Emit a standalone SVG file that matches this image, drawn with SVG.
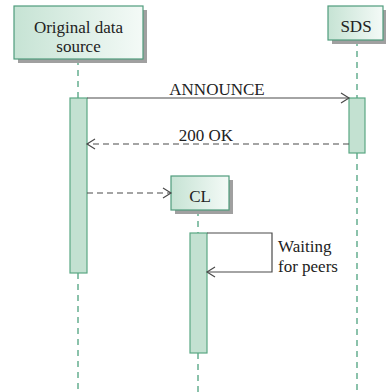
<svg xmlns="http://www.w3.org/2000/svg" width="386" height="392" viewBox="0 0 386 392">
<style>
text{font-family:"Liberation Serif","Times New Roman",serif;font-size:17px;fill:#222}
.box{fill:url(#g);stroke:#4f9c7c;stroke-width:1.2}
.sh{fill:#a0a0a0}
.act{fill:#c3e1d1;stroke:#5aa783;stroke-width:1.2}
.life{stroke:#3f9a74;stroke-width:1.2;stroke-dasharray:6 5;fill:none}
.msg{stroke:#4a4a4a;stroke-width:1.2;fill:none}
.dash{stroke-dasharray:6 4}
</style>
<defs>
<linearGradient id="g" x1="0" y1="0" x2="1" y2="0">
<stop offset="0" stop-color="#c6e3d4"/>
<stop offset="1" stop-color="#f4faf7"/>
</linearGradient>
<marker id="ah" markerWidth="12" markerHeight="12" refX="10" refY="6" orient="auto" markerUnits="userSpaceOnUse">
<path d="M2,1 L10,6 L2,11" fill="none" stroke="#4a4a4a" stroke-width="1.2"/>
</marker>
</defs>
<g id="lifelines">
<line class="life" x1="78" y1="59" x2="78" y2="98"/>
<line class="life" x1="78" y1="273" x2="78" y2="392"/>
<line class="life" x1="357" y1="40" x2="357" y2="98"/>
<line class="life" x1="357" y1="153" x2="357" y2="392"/>
<line class="life" x1="198" y1="210" x2="198" y2="233"/>
<line class="life" x1="198" y1="353" x2="198" y2="392"/>
</g>
<g id="node-original">
<rect class="sh" x="18" y="10" width="129" height="53"/>
<rect class="box" x="14" y="6" width="129" height="53"/>
<text x="78.5" y="33" text-anchor="middle">Original data</text>
<text x="78.5" y="52" text-anchor="middle">source</text>
</g>
<g id="node-sds">
<rect class="sh" x="332" y="10" width="55" height="34"/>
<rect class="box" x="328" y="6" width="55" height="34"/>
<text x="356" y="32" text-anchor="middle">SDS</text>
</g>
<g id="node-cl">
<rect class="sh" x="175" y="180" width="58" height="34"/>
<rect class="box" x="171" y="176" width="58" height="34"/>
<text x="200" y="202" text-anchor="middle">CL</text>
</g>
<g id="activations">
<rect class="act" x="70" y="98" width="17" height="175"/>
<rect class="act" x="349" y="98" width="16" height="55"/>
<rect class="act" x="190" y="233" width="17" height="120"/>
</g>
<g id="connectors">
<line class="msg" x1="87" y1="98" x2="349" y2="98" marker-end="url(#ah)"/>
<text x="217" y="95" text-anchor="middle">ANNOUNCE</text>
<line class="msg dash" x1="349" y1="144" x2="87" y2="144" marker-end="url(#ah)"/>
<text x="206" y="141" text-anchor="middle">200 OK</text>
<line class="msg dash" x1="87" y1="193" x2="171" y2="193" marker-end="url(#ah)"/>
<polyline class="msg" points="207,233 272,233 272,272 207,272" marker-end="url(#ah)"/>
<text x="278" y="252">Waiting</text>
<text x="278" y="272">for peers</text>
</g>
</svg>
